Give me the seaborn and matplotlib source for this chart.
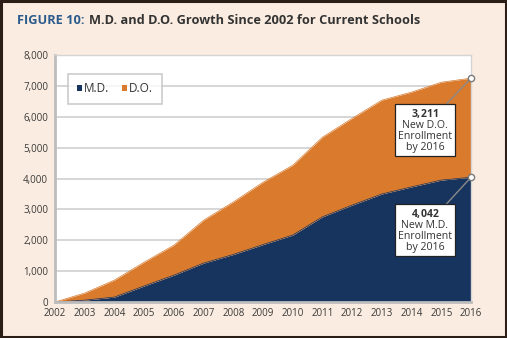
import numpy as np
import pandas as pd
import matplotlib
matplotlib.use("Agg")
import matplotlib.pyplot as plt
import seaborn as sns
from matplotlib.patches import Patch, Rectangle

years = [2002, 2003, 2004, 2005, 2006, 2007, 2008, 2009, 2010, 2011, 2012, 2013, 2014, 2015, 2016]
md_values = [0, 60, 160, 520, 870, 1260, 1540, 1860, 2170, 2760, 3140, 3500, 3730, 3950, 4042]
do_values = [0, 230, 550, 770, 970, 1390, 1700, 2020, 2260, 2580, 2810, 3040, 3070, 3170, 3211]
series_names = ["M.D.", "D.O."]
y_ticks = [0, 1000, 2000, 3000, 4000, 5000, 6000, 7000, 8000]

NAVY = "#17345f"
ORANGE = "#d97a2c"
BG = "#faece0"

sns.set_style("white")
plt.rcParams["font.family"] = ["Open Sans", "DejaVu Sans"]
plt.rcParams["mathtext.fontset"] = "custom"
plt.rcParams["mathtext.bf"] = "Open Sans:bold"
plt.rcParams["mathtext.rm"] = "Open Sans"

df = pd.DataFrame({"year": years, "M.D.": md_values, "D.O.": do_values})
df["total"] = df["M.D."] + df["D.O."]

fig = plt.figure(figsize=(5.07, 3.38), dpi=100)
fig.patch.set_facecolor(BG)
fig.patches.append(Rectangle((0.002, 0.004), 0.996, 0.994, transform=fig.transFigure,
                             fill=False, edgecolor="#2b1e16", linewidth=2.2))

ax = fig.add_axes([0.1085, 0.1065, 0.8205, 0.7305])
ax.set_facecolor("white")

ax.stackplot(df["year"], df["M.D."], df["D.O."], colors=[NAVY, ORANGE], linewidth=0)
sns.lineplot(data=df, x="year", y="total", ax=ax, color=ORANGE, linewidth=0.5)
sns.lineplot(data=df, x="year", y="M.D.", ax=ax, color=NAVY, linewidth=0.5)

ax.set_xlim(2002, 2016)
ax.set_ylim(0, 8000)
ax.set_xticks(years)
ax.set_yticks(y_ticks)
ax.set_xticklabels([str(y) for y in years], fontsize=7, color="#3a3a3a")
ax.set_yticklabels([f"{v:,}" for v in y_ticks], fontsize=7, color="#3a3a3a")
ax.set_xlabel("")
ax.set_ylabel("")
ax.tick_params(axis="x", length=0, pad=4)
ax.tick_params(axis="y", length=0, pad=5)
ax.grid(axis="y", color="#d0d0d0", linewidth=1.2, zorder=0)
ax.set_axisbelow(True)
for s in ["top", "right"]:
    ax.spines[s].set_color("#d4d4d4")
    ax.spines[s].set_linewidth(1.0)
for s in ["left", "bottom"]:
    ax.spines[s].set_color("#bdbdbd")
    ax.spines[s].set_linewidth(2.0)

handles = [Patch(facecolor=NAVY, edgecolor="none"), Patch(facecolor=ORANGE, edgecolor="none")]
leg = ax.legend(handles, series_names, loc="upper left", bbox_to_anchor=(0.031, 0.925),
                borderaxespad=0, frameon=True, fancybox=False, fontsize=8.5,
                handlelength=0.45, handleheight=0.45, handletextpad=0.15, ncol=2,
                columnspacing=1.1, borderpad=0.75)
leg.get_frame().set_edgecolor("#bfbfbf")
leg.get_frame().set_linewidth(1.2)
for t in leg.get_texts():
    t.set_color("#333333")

md_end = md_values[-1]
total_end = md_values[-1] + do_values[-1]

for ypt, ybox, num, label in [(total_end, 5570, do_values[-1], "D.O."),
                              (md_end, 2330, md_end, "M.D.")]:
    ax.plot([2016, 2015.15], [ypt, ybox + 820], color="#8a8a8a", linewidth=1.0, zorder=5, clip_on=False)
    ax.plot([2016], [ypt], marker="o", markersize=4.5, markerfacecolor="white",
            markeredgecolor="#7a7a7a", markeredgewidth=1.0, zorder=6, clip_on=False)
    txt = f"$\\mathbf{{{num:,}}}$".replace(",", "{,}") + f"\nNew {label}\nEnrollment\nby 2016"
    ax.text(2014.45, ybox, txt, ha="center", va="center", fontsize=7.6, color="#333333",
            linespacing=1.0, zorder=7,
            bbox=dict(boxstyle="square,pad=0.3", facecolor="white", edgecolor="#222222", linewidth=0.9))

t1 = fig.text(0.034, 0.94, "FIGURE 10:", fontsize=9.2, fontweight="bold", color="#2b5b8c", va="center")
fig.canvas.draw()
bb = t1.get_window_extent(renderer=fig.canvas.get_renderer())
x_next = (bb.x1 + 4) / fig.bbox.width
fig.text(x_next, 0.94, "M.D. and D.O. Growth Since 2002 for Current Schools", fontsize=9.2,
         fontweight="bold", color="#333333", va="center")

fig.savefig("out.png", dpi=100, facecolor=BG)
